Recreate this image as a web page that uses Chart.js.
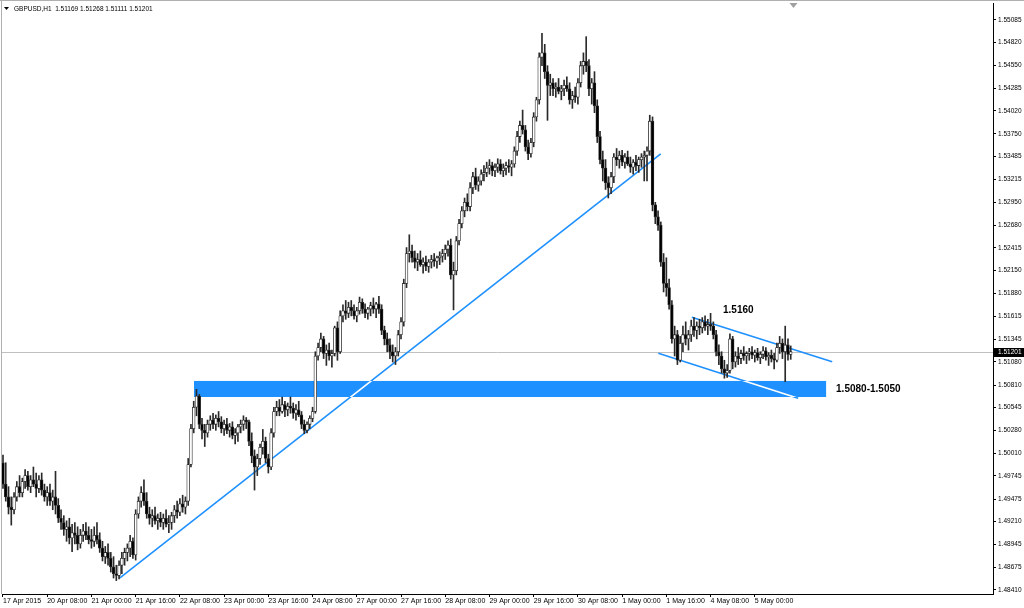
<!DOCTYPE html>
<html>
<head>
<meta charset="utf-8">
<script src="https://cdn.jsdelivr.net/npm/chart.js@4.4.1/dist/chart.umd.min.js"></script>
<style>
  html, body { margin: 0; padding: 0; background: #fff; overflow: hidden; }
  canvas { display: block; }
</style>
</head>
<body>
<canvas id="chart" width="1024" height="608"></canvas>
<script>
// GBPUSD H1, 17 Apr 2015 16:00 .. 5 May 2015 13:00 (one entry per hourly bar)
const symbol = 'GBPUSD';
const period = 'H1';
const firstOpen = 1.4990; // open of the first bar, every later bar opens at the previous close

const closes = [
  1.4965, 1.4950, 1.4938, 1.4935, 1.4950, 1.4962, 1.4955, 1.4968, 1.4975, 1.4962,
  1.4970, 1.4965, 1.4960, 1.4970, 1.4958, 1.4950, 1.4955, 1.4945, 1.4950, 1.4940,
  1.4925, 1.4920, 1.4912, 1.4915, 1.4902, 1.4908, 1.4905, 1.4895, 1.4905, 1.4910,
  1.4905, 1.4900, 1.4898, 1.4905, 1.4900, 1.4890, 1.4880, 1.4885, 1.4878, 1.4868,
  1.4860, 1.4858, 1.4870, 1.4878, 1.4885, 1.4890, 1.4898, 1.4882, 1.4930, 1.4945,
  1.4955, 1.4945, 1.4930, 1.4925, 1.4928, 1.4922, 1.4925, 1.4920, 1.4925, 1.4918,
  1.4920, 1.4928, 1.4935, 1.4932, 1.4942, 1.4938, 1.4945, 1.4988, 1.5030, 1.5055,
  1.5068, 1.5035, 1.5028, 1.5025, 1.5035, 1.5040, 1.5035, 1.5042, 1.5038, 1.5030,
  1.5035, 1.5028, 1.5032, 1.5022, 1.5025, 1.5032, 1.5035, 1.5040, 1.5038, 1.5015,
  1.4998, 1.4985, 1.4995, 1.5008, 1.5015, 1.4995, 1.4985, 1.5025, 1.5050, 1.5055,
  1.5050, 1.5058, 1.5052, 1.5056, 1.5054, 1.5048, 1.5052, 1.5046, 1.5035, 1.5028,
  1.5035, 1.5042, 1.5050, 1.5115, 1.5125, 1.5135, 1.5118, 1.5122, 1.5115, 1.5118,
  1.5148, 1.5120, 1.5162, 1.5168, 1.5165, 1.5172, 1.5168, 1.5162, 1.5168, 1.5178,
  1.5170, 1.5165, 1.5170, 1.5174, 1.5170, 1.5176, 1.5170, 1.5145, 1.5135, 1.5128,
  1.5120, 1.5115, 1.5120, 1.5140, 1.5155, 1.5200, 1.5235, 1.5238, 1.5230, 1.5225,
  1.5228, 1.5222, 1.5225, 1.5220, 1.5225, 1.5228, 1.5226, 1.5230, 1.5232, 1.5235,
  1.5240, 1.5245, 1.5210, 1.5215, 1.5250, 1.5270, 1.5285, 1.5295, 1.5290, 1.5312,
  1.5325, 1.5315, 1.5320, 1.5328, 1.5330, 1.5335, 1.5338, 1.5332, 1.5336, 1.5340,
  1.5332, 1.5335, 1.5338, 1.5336, 1.5340, 1.5355, 1.5372, 1.5385, 1.5380, 1.5360,
  1.5352, 1.5365, 1.5395, 1.5415, 1.5465, 1.5470, 1.5448, 1.5432, 1.5435, 1.5428,
  1.5430, 1.5425, 1.5428, 1.5432, 1.5428, 1.5415, 1.5420, 1.5418, 1.5435, 1.5455,
  1.5460, 1.5455, 1.5428, 1.5435, 1.5408, 1.5372, 1.5345, 1.5335, 1.5318, 1.5312,
  1.5325, 1.5348, 1.5345, 1.5350, 1.5342, 1.5348, 1.5340, 1.5336, 1.5342, 1.5338,
  1.5345, 1.5348, 1.5350, 1.5355, 1.5390, 1.5292, 1.5278, 1.5268, 1.5225, 1.5200,
  1.5195, 1.5175, 1.5135, 1.5140, 1.5110, 1.5130, 1.5140, 1.5135, 1.5140, 1.5150,
  1.5145, 1.5150, 1.5148, 1.5155, 1.5150, 1.5152, 1.5150, 1.5140, 1.5120, 1.5115,
  1.5100, 1.5095, 1.5098, 1.5135, 1.5108, 1.5115, 1.5112, 1.5118, 1.5115, 1.5118,
  1.5120, 1.5116, 1.5119, 1.5113, 1.5117, 1.5121, 1.5114, 1.5116, 1.5112, 1.5110,
  1.5125, 1.5130, 1.5120, 1.5128, 1.51169, 1.51201
];

const highs = [
  1.4999, 1.4990, 1.4962, 1.4950, 1.4955, 1.4968, 1.4975, 1.4972, 1.4982, 1.4980,
  1.4975, 1.4985, 1.4978, 1.4975, 1.4978, 1.4965, 1.4962, 1.4965, 1.4958, 1.4980,
  1.4948, 1.4935, 1.4928, 1.4922, 1.4925, 1.4918, 1.4920, 1.4915, 1.4912, 1.4918,
  1.4920, 1.4915, 1.4912, 1.4915, 1.4920, 1.4908, 1.4898, 1.4892, 1.4895, 1.4885,
  1.4880, 1.4870, 1.4875, 1.4885, 1.4890, 1.4895, 1.4905, 1.4902, 1.4935, 1.4950,
  1.4962, 1.4970, 1.4955, 1.4938, 1.4935, 1.4938, 1.4930, 1.4932, 1.4930, 1.4935,
  1.4928, 1.4932, 1.4940, 1.4945, 1.4948, 1.4952, 1.4950, 1.4995, 1.5035, 1.5062,
  1.5076, 1.5070, 1.5042, 1.5035, 1.5040, 1.5045, 1.5048, 1.5046, 1.5050, 1.5044,
  1.5040, 1.5042, 1.5036, 1.5038, 1.5030, 1.5035, 1.5040, 1.5045, 1.5043, 1.5040,
  1.5025, 1.5005, 1.5000, 1.5012, 1.5029, 1.5020, 1.5000, 1.5030, 1.5055, 1.5062,
  1.5064, 1.5067, 1.5062, 1.5060, 1.5067, 1.5060, 1.5058, 1.5062, 1.5050, 1.5040,
  1.5038, 1.5045, 1.5055, 1.5120, 1.5130, 1.5142, 1.5138, 1.5128, 1.5130, 1.5122,
  1.5150, 1.5155, 1.5168, 1.5175, 1.5180, 1.5178, 1.5180, 1.5175, 1.5172, 1.5184,
  1.5182, 1.5176, 1.5172, 1.5178, 1.5183, 1.5178, 1.5185, 1.5175, 1.5150, 1.5142,
  1.5135, 1.5128, 1.5125, 1.5145, 1.5160, 1.5205, 1.5242, 1.5257, 1.5245, 1.5238,
  1.5235, 1.5238, 1.5230, 1.5232, 1.5228, 1.5233, 1.5235, 1.5232, 1.5237, 1.5240,
  1.5245, 1.5250, 1.5252, 1.5225, 1.5255, 1.5275, 1.5290, 1.5300, 1.5305, 1.5318,
  1.5330, 1.5335, 1.5325, 1.5333, 1.5338, 1.5342, 1.5345, 1.5342, 1.5340, 1.5346,
  1.5345, 1.5340, 1.5342, 1.5345, 1.5344, 1.5360, 1.5378, 1.5390, 1.5403, 1.5385,
  1.5368, 1.5370, 1.5400, 1.5418, 1.5470, 1.5493, 1.5480, 1.5455, 1.5445, 1.5440,
  1.5435, 1.5440, 1.5432, 1.5438, 1.5442, 1.5435, 1.5425, 1.5430, 1.5440, 1.5460,
  1.5470, 1.5489, 1.5462, 1.5440, 1.5448, 1.5415, 1.5378, 1.5355, 1.5345, 1.5325,
  1.5330, 1.5352, 1.5358, 1.5355, 1.5356, 1.5352, 1.5355, 1.5348, 1.5345, 1.5350,
  1.5348, 1.5352, 1.5355, 1.5360, 1.5397, 1.5395, 1.5295, 1.5285, 1.5272, 1.5235,
  1.5230, 1.5205, 1.5180, 1.5150, 1.5145, 1.5138, 1.5150, 1.5155, 1.5145, 1.5157,
  1.5160, 1.5155, 1.5158, 1.5160, 1.5162, 1.5158, 1.5165, 1.5155, 1.5145, 1.5128,
  1.5120, 1.5110, 1.5105, 1.5141, 1.5138, 1.5120, 1.5125, 1.5122, 1.5126, 1.5120,
  1.5124, 1.5126, 1.5122, 1.5124, 1.5120, 1.5126, 1.5125, 1.5119, 1.5122, 1.5118,
  1.5130, 1.5138, 1.5135, 1.5150, 1.5135, 1.51268
];

const lows = [
  1.4960, 1.4945, 1.4930, 1.4917, 1.4930, 1.4945, 1.4950, 1.4950, 1.4960, 1.4958,
  1.4955, 1.4962, 1.4950, 1.4955, 1.4952, 1.4945, 1.4940, 1.4940, 1.4935, 1.4930,
  1.4920, 1.4912, 1.4905, 1.4898, 1.4895, 1.4886, 1.4895, 1.4888, 1.4890, 1.4898,
  1.4900, 1.4895, 1.4890, 1.4892, 1.4895, 1.4885, 1.4875, 1.4872, 1.4870, 1.4862,
  1.4855, 1.4852, 1.4854, 1.4860, 1.4870, 1.4875, 1.4880, 1.4878, 1.4876, 1.4925,
  1.4938, 1.4940, 1.4925, 1.4918, 1.4915, 1.4918, 1.4912, 1.4915, 1.4912, 1.4915,
  1.4908, 1.4912, 1.4920, 1.4925, 1.4928, 1.4932, 1.4930, 1.4940, 1.4985, 1.5025,
  1.5045, 1.5030, 1.5018, 1.5009, 1.5020, 1.5028, 1.5030, 1.5028, 1.5032, 1.5025,
  1.5022, 1.5024, 1.5020, 1.5018, 1.5012, 1.5015, 1.5025, 1.5028, 1.5030, 1.5010,
  1.4990, 1.4958, 1.4975, 1.4988, 1.5000, 1.4990, 1.4978, 1.4982, 1.5020, 1.5045,
  1.5045, 1.5048, 1.5044, 1.5045, 1.5048, 1.5042, 1.5040, 1.5044, 1.5030, 1.5024,
  1.5025, 1.5030, 1.5038, 1.5048, 1.5110, 1.5120, 1.5112, 1.5104, 1.5110, 1.5102,
  1.5115, 1.5110, 1.5118, 1.5155, 1.5158, 1.5160, 1.5162, 1.5158, 1.5155, 1.5164,
  1.5165, 1.5160, 1.5158, 1.5162, 1.5165, 1.5160, 1.5165, 1.5140, 1.5128, 1.5120,
  1.5112, 1.5108, 1.5105, 1.5115, 1.5135, 1.5150, 1.5195, 1.5225, 1.5225, 1.5218,
  1.5215, 1.5220, 1.5212, 1.5215, 1.5213, 1.5218, 1.5220, 1.5218, 1.5222, 1.5225,
  1.5228, 1.5232, 1.5205, 1.5169, 1.5210, 1.5245, 1.5265, 1.5278, 1.5285, 1.5285,
  1.5305, 1.5310, 1.5308, 1.5315, 1.5320, 1.5325, 1.5328, 1.5326, 1.5325, 1.5330,
  1.5328, 1.5325, 1.5327, 1.5330, 1.5326, 1.5336, 1.5350, 1.5365, 1.5375, 1.5355,
  1.5345, 1.5348, 1.5360, 1.5390, 1.5410, 1.5455, 1.5440, 1.5391, 1.5420, 1.5420,
  1.5418, 1.5422, 1.5415, 1.5420, 1.5425, 1.5410, 1.5405, 1.5412, 1.5410, 1.5430,
  1.5445, 1.5448, 1.5420, 1.5410, 1.5400, 1.5365, 1.5340, 1.5320, 1.5310, 1.5300,
  1.5305, 1.5318, 1.5338, 1.5335, 1.5338, 1.5335, 1.5338, 1.5330, 1.5328, 1.5332,
  1.5330, 1.5336, 1.5320, 1.5320, 1.5350, 1.5285, 1.5270, 1.5262, 1.5220, 1.5190,
  1.5185, 1.5170, 1.5130, 1.5115, 1.5105, 1.5108, 1.5120, 1.5128, 1.5122, 1.5132,
  1.5138, 1.5135, 1.5140, 1.5142, 1.5145, 1.5140, 1.5145, 1.5135, 1.5115, 1.5105,
  1.5095, 1.5089, 1.5090, 1.5095, 1.5100, 1.5102, 1.5105, 1.5106, 1.5110, 1.5106,
  1.5110, 1.5112, 1.5108, 1.5110, 1.5106, 1.5112, 1.5110, 1.5104, 1.5108, 1.5100,
  1.5108, 1.5118, 1.5112, 1.5085, 1.5110, 1.51111
];

// one time label every 16 bars
const barsPerXTick = 16;
const xTickLabels = [
  '17 Apr 2015', '20 Apr 08:00', '21 Apr 00:00', '21 Apr 16:00', '22 Apr 08:00',
  '23 Apr 00:00', '23 Apr 16:00', '24 Apr 08:00', '27 Apr 00:00', '27 Apr 16:00',
  '28 Apr 08:00', '29 Apr 00:00', '29 Apr 16:00', '30 Apr 08:00', '1 May 00:00',
  '1 May 16:00', '4 May 08:00', '5 May 00:00'
];

const yTickValues = [
  1.55085, 1.54820, 1.54550, 1.54285, 1.54020, 1.53750, 1.53485, 1.53215, 1.52950,
  1.52680, 1.52415, 1.52150, 1.51880, 1.51615, 1.51345, 1.51080, 1.50810, 1.50545,
  1.50280, 1.50010, 1.49745, 1.49475, 1.49210, 1.48945, 1.48675, 1.48410
];

// drawn objects: [bar index, price] pairs
const zoneBars = [69.1, 297.8];
const zonePrices = [1.50858, 1.50670];
const trendLines = [
  [42.3, 1.48551, 237.95, 1.53516],   // rising support
  [249.2, 1.51603, 300.0, 1.51084],   // channel top
  [237.1, 1.51182, 287.7, 1.50655]    // channel bottom
];
const noteTexts = ['1.5160', '1.5080-1.5050'];
const noteBars = [260.5, 301.4];
const notePrices = [1.51689, 1.50764];

const objBlue = 'rgb(30,144,255)';
const candleInk = '#2a2a2a';

const opens = closes.map((c, i) => (i === 0 ? firstOpen : closes[i - 1]));
const last = closes.length - 1;

const wickData = closes.map((c, i) => ({
  x: i,
  y: [Math.min(lows[i], opens[i], c), Math.max(highs[i], opens[i], c)]
}));
const bodyData = closes.map((c, i) => ({ x: i, y: [opens[i], c] }));
const bodyFill = closes.map((c, i) => (c >= opens[i] ? '#ffffff' : '#000000'));

const mt4Objects = {
  id: 'mt4Objects',
  beforeDatasetsDraw(chart) {
    const { ctx, chartArea: a, scales: { x, y } } = chart;
    ctx.save();
    ctx.beginPath();
    ctx.rect(a.left, a.top, a.right - a.left, a.bottom - a.top);
    ctx.clip();

    // bid line
    const py = Math.round(y.getPixelForValue(closes[last])) + 0.5;
    ctx.strokeStyle = '#c0c0c0';
    ctx.lineWidth = 1;
    ctx.beginPath();
    ctx.moveTo(a.left, py);
    ctx.lineTo(a.right, py);
    ctx.stroke();

    // support zone rectangle
    const zx0 = x.getPixelForValue(zoneBars[0]);
    const zx1 = x.getPixelForValue(zoneBars[1]);
    const zy0 = y.getPixelForValue(zonePrices[0]);
    const zy1 = y.getPixelForValue(zonePrices[1]);
    ctx.fillStyle = objBlue;
    ctx.fillRect(zx0, zy0, zx1 - zx0, zy1 - zy0);

    const strokeLines = (color) => {
      ctx.strokeStyle = color;
      ctx.lineWidth = 1.6;
      trendLines.forEach(t => {
        ctx.beginPath();
        ctx.moveTo(x.getPixelForValue(t[0]), y.getPixelForValue(t[1]));
        ctx.lineTo(x.getPixelForValue(t[2]), y.getPixelForValue(t[3]));
        ctx.stroke();
      });
    };
    strokeLines(objBlue);
    // where the lines cross the zone they show up white
    ctx.save();
    ctx.beginPath();
    ctx.rect(zx0, zy0, zx1 - zx0, zy1 - zy0);
    ctx.clip();
    strokeLines('#ffffff');
    ctx.restore();

    ctx.restore();
  },
  afterDraw(chart) {
    const { ctx, chartArea: a, scales: { x, y } } = chart;
    ctx.save();

    // window frame
    ctx.strokeStyle = '#b0b0b0';
    ctx.lineWidth = 1;
    ctx.beginPath();
    ctx.moveTo(0, 0.5);
    ctx.lineTo(chart.width, 0.5);
    ctx.moveTo(1.5, 0);
    ctx.lineTo(1.5, a.bottom);
    ctx.stroke();

    // chart shift marker
    const sx = x.getPixelForValue(last + 1);
    ctx.fillStyle = '#a0a0a0';
    ctx.beginPath();
    ctx.moveTo(sx - 4, a.top);
    ctx.lineTo(sx + 4, a.top);
    ctx.lineTo(sx, a.top + 5);
    ctx.closePath();
    ctx.fill();

    // header
    ctx.fillStyle = '#000';
    ctx.beginPath();
    ctx.moveTo(4, 7);
    ctx.lineTo(9, 7);
    ctx.lineTo(6.5, 10);
    ctx.closePath();
    ctx.fill();
    ctx.font = '6.5px "Liberation Sans"';
    ctx.textBaseline = 'alphabetic';
    ctx.textAlign = 'left';
    const hdr = symbol + ',' + period + '  ' +
      [opens[last], highs[last], lows[last], closes[last]].map(v => v.toFixed(5)).join(' ');
    ctx.fillText(hdr, 14, 10.5);

    // notes
    ctx.font = 'bold 10px "Liberation Sans"';
    ctx.textBaseline = 'middle';
    noteTexts.forEach((t, k) => {
      ctx.fillText(t, x.getPixelForValue(noteBars[k]), y.getPixelForValue(notePrices[k]));
    });

    // bid label on the price axis
    const py = Math.round(y.getPixelForValue(closes[last]));
    ctx.fillStyle = '#000';
    ctx.fillRect(a.right + 1, py - 4, chart.width - a.right - 1, 9);
    ctx.fillStyle = '#fff';
    ctx.font = '6.5px "Liberation Sans"';
    ctx.fillText(closes[last].toFixed(5), a.right + 5, py + 0.5);

    ctx.restore();
  }
};

new Chart(document.getElementById('chart'), {
  type: 'bar',
  data: {
    datasets: [
      {
        label: 'body',
        data: bodyData,
        backgroundColor: bodyFill,
        borderColor: candleInk,
        borderWidth: 0.8,
        borderSkipped: false,
        barThickness: 2.8,
        grouped: false,
        order: 0
      },
      {
        label: 'wick',
        data: wickData,
        backgroundColor: candleInk,
        borderWidth: 0,
        barThickness: 1,
        grouped: false,
        order: 1
      }
    ]
  },
  options: {
    responsive: false,
    animation: false,
    devicePixelRatio: 1,
    layout: { padding: { top: 3, left: 2, right: 0, bottom: 0 } },
    plugins: {
      legend: { display: false },
      tooltip: { enabled: false }
    },
    scales: {
      x: {
        type: 'linear',
        min: -0.36,
        max: 358.18,
        offset: false,
        grid: { display: true, offset: false, drawOnChartArea: false, drawTicks: true, tickLength: 3, color: '#000' },
        border: { display: true, color: '#000', width: 1 },
        ticks: {
          autoSkip: false,
          maxRotation: 0,
          align: 'start',
          padding: 0,
          color: '#000',
          font: { family: 'Liberation Sans', size: 7 },
          callback: v => xTickLabels[Math.round(v / barsPerXTick)] || ''
        },
        afterBuildTicks: s => {
          s.ticks = xTickLabels.map((_, k) => ({ value: k * barsPerXTick }));
        },
        afterFit: s => {
          s.height = 14;
          s.paddingLeft = 0;
          s.paddingRight = 0;
        }
      },
      y: {
        type: 'linear',
        position: 'right',
        beginAtZero: false,
        min: 1.48363,
        max: 1.55284,
        grid: { display: true, drawOnChartArea: false, drawTicks: true, tickLength: 3, color: '#000' },
        border: { display: true, color: '#000', width: 1 },
        ticks: {
          autoSkip: false,
          padding: 2,
          color: '#000',
          font: { family: 'Liberation Sans', size: 6.5 },
          callback: v => v.toFixed(5)
        },
        afterBuildTicks: s => {
          s.ticks = yTickValues.map(v => ({ value: v }));
        },
        afterFit: s => {
          s.width = 31;
          s.paddingTop = 0;
          s.paddingBottom = 0;
        }
      }
    }
  },
  plugins: [mt4Objects]
});
</script>
</body>
</html>
